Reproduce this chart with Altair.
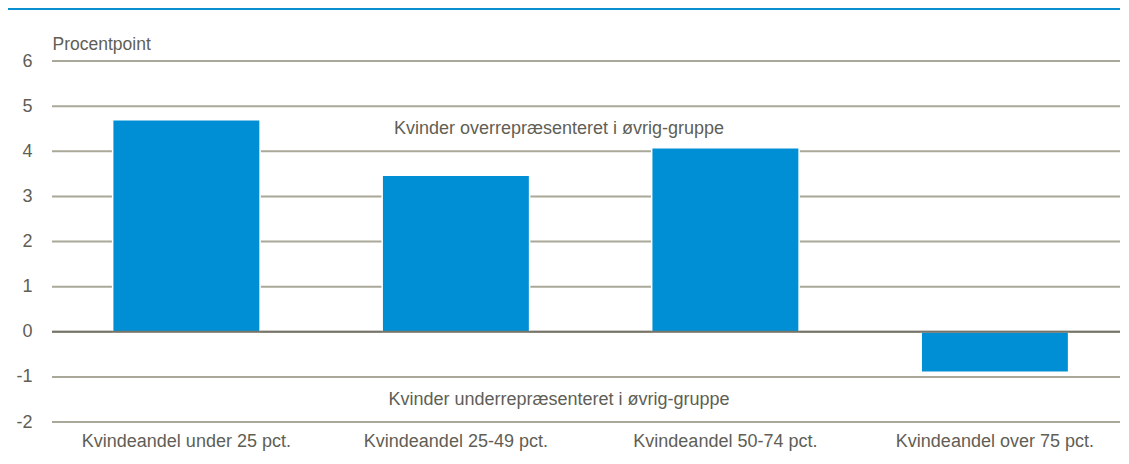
import altair as alt
import pandas as pd

categories = ["Kvindeandel under 25 pct.", "Kvindeandel 25-49 pct.",
              "Kvindeandel 50-74 pct.", "Kvindeandel over 75 pct."]
values = [4.70, 3.47, 4.08, -0.90]
y_ticks = [-2, -1, 0, 1, 2, 3, 4, 5, 6]
note_over = "Kvinder overrepræsenteret i øvrig-gruppe"
note_under = "Kvinder underrepræsenteret i øvrig-gruppe"

df = pd.DataFrame({"cat": categories, "val": values})

FONT = "Liberation Sans, Arial, sans-serif"
TXT = "#605e55"
GRID = "#aaa898"
BLUE = "#008fd5"
FS = 18

x_enc = alt.X("cat:N", sort=categories, title=None,
              scale=alt.Scale(paddingInner=0.453, paddingOuter=0.193, align=0.583),
              axis=alt.Axis(labelAngle=0, domain=False, ticks=False, labelPadding=10,
                            labelLimit=500,
                            labelFont=FONT, labelFontSize=FS, labelColor=TXT))
y_scale = alt.Scale(domain=[-2, 6], nice=False)

y_axis = alt.Axis(values=y_ticks, grid=False, domain=False, ticks=False,
                  labelExpr="'' + datum.value",
                  labelPadding=20, labelFont=FONT, labelFontSize=18, labelColor=TXT,
                  title="Procentpoint", titleAngle=0, titleAlign="left",
                  titleBaseline="bottom", titleX=0, titleY=-8,
                  titleFont=FONT, titleFontSize=17.5, titleFontWeight="normal",
                  titleColor=TXT)

grid = alt.Chart(pd.DataFrame({"t": y_ticks})).mark_rule(color=GRID, strokeWidth=2).encode(
    x=alt.value(0), x2=alt.value(1068),
    y=alt.Y("t:Q", scale=y_scale, axis=y_axis)
)

bars = alt.Chart(df).mark_bar(color=BLUE, stroke="white", strokeWidth=1.5).encode(
    x=x_enc,
    y=alt.Y("val:Q", scale=y_scale, axis=y_axis),
    y2=alt.datum(0),
)

zero = alt.Chart(pd.DataFrame({"t": [0]})).mark_rule(color="#77756a", strokeWidth=2).encode(
    x=alt.value(0), x2=alt.value(1068),
    y=alt.Y("t:Q", scale=y_scale, axis=y_axis)
)

txt_over = alt.Chart(pd.DataFrame({"s": [note_over]})).mark_text(
    font=FONT, fontSize=FS, color=TXT, align="center", baseline="middle"
).encode(x=alt.value(507), y=alt.datum(4.5), text="s:N")

txt_under = alt.Chart(pd.DataFrame({"s": [note_under]})).mark_text(
    font=FONT, fontSize=FS, color=TXT, align="center", baseline="middle"
).encode(x=alt.value(507), y=alt.datum(-1.51), text="s:N")

topline = alt.Chart(pd.DataFrame({"a": [1]})).mark_rule(color="#0a8fd0", strokeWidth=2).encode(
    x=alt.value(-60), x2=alt.value(1068), y=alt.value(-52)
)

chart = alt.layer(grid, bars, zero, txt_over, txt_under, topline).properties(
    width=1060, height=361,
    background="white",
    autosize=alt.AutoSizeParams(type="none"),
    padding={"left": 44, "top": 53, "right": 9, "bottom": 40},
).configure_view(stroke=None)

chart.save("out.html", embed_options={"renderer": "svg", "actions": False})
